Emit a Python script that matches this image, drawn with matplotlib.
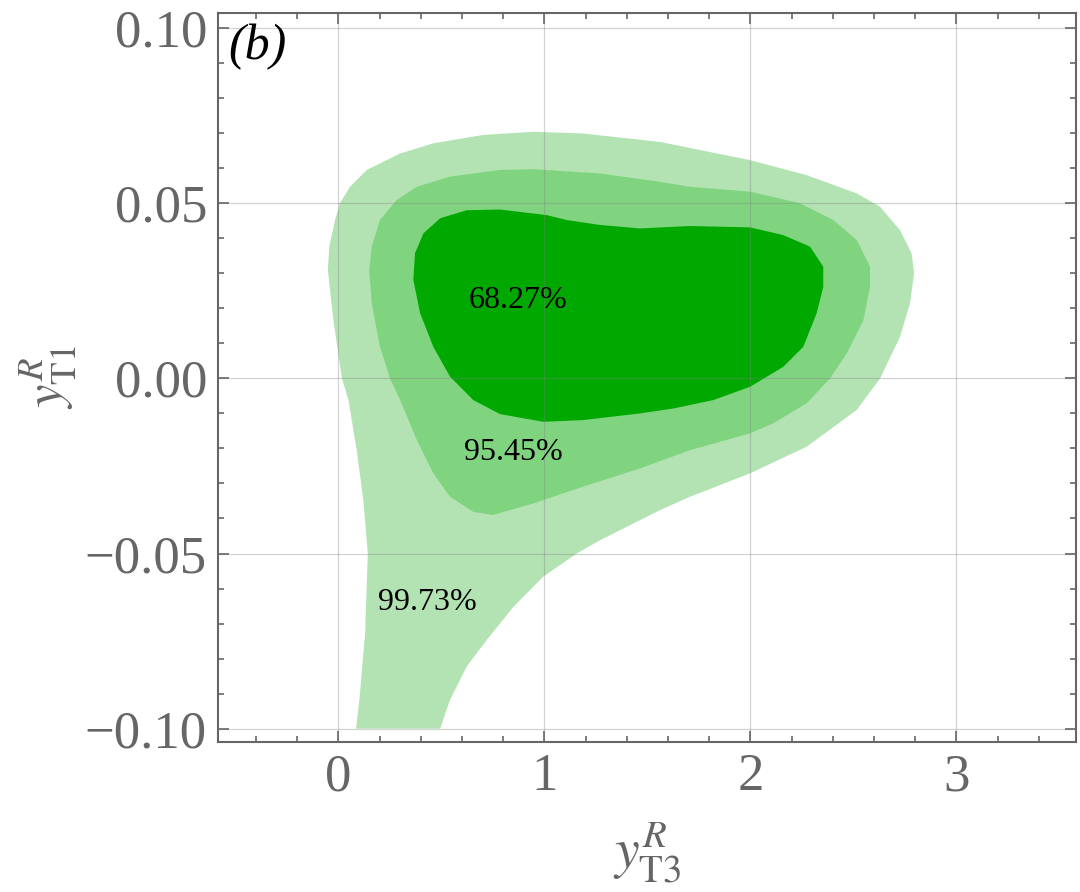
import numpy as np
import matplotlib
matplotlib.use("Agg")
import matplotlib.pyplot as plt
from matplotlib.ticker import MultipleLocator

plt.rcParams['font.family'] = ['Liberation Serif', 'DejaVu Serif']
plt.rcParams['mathtext.fontset'] = 'stix'

# confidence regions (y_T3^R, y_T1^R)
x_997 = [0.086, 0.102, 0.130, 0.143, 0.121, 0.089, 0.049, 0.017, -0.024, -0.051,
         -0.044, -0.016, 0.008, 0.057, 0.138, 0.300, 0.461, 0.704, 0.947, 1.189,
         1.562, 1.999, 2.274, 2.517, 2.630, 2.727, 2.783, 2.795, 2.775, 2.727,
         2.630, 2.517, 2.274, 1.999, 1.707, 1.562, 1.270, 1.157, 0.995, 0.850,
         0.720, 0.623, 0.542, 0.494]
y_997 = [-0.1000, -0.0918, -0.0727, -0.0499, -0.0347, -0.0205, -0.0062, 0.0001, 0.0166, 0.0309,
         0.0376, 0.0452, 0.0501, 0.0547, 0.0595, 0.0642, 0.0671, 0.0695, 0.0704, 0.0699,
         0.0675, 0.0623, 0.0580, 0.0528, 0.0490, 0.0423, 0.0357, 0.0300, 0.0214, 0.0119,
         0.0000, -0.0090, -0.0195, -0.0271, -0.0338, -0.0376, -0.0462, -0.0500, -0.0566, -0.0652,
         -0.0747, -0.0823, -0.0918, -0.1000]

x_954 = [0.150, 0.162, 0.202, 0.283, 0.381, 0.542, 0.785, 0.947, 1.270, 1.562,
         1.707, 1.999, 2.241, 2.403, 2.517, 2.581, 2.581, 2.549, 2.468, 2.387,
         2.274, 2.112, 1.999, 1.707, 1.465, 1.189, 0.947, 0.752, 0.655, 0.542,
         0.461, 0.381, 0.300, 0.251, 0.202, 0.162]
y_954 = [0.0309, 0.0376, 0.0452, 0.0509, 0.0547, 0.0576, 0.0595, 0.0597, 0.0585, 0.0561,
         0.0547, 0.0533, 0.0500, 0.0452, 0.0395, 0.0319, 0.0261, 0.0166, 0.0071, 0.0000,
         -0.0071, -0.0128, -0.0157, -0.0205, -0.0257, -0.0309, -0.0357, -0.0390, -0.0381, -0.0338,
         -0.0271, -0.0176, -0.0062, 0.0000, 0.0090, 0.0214]

x_683 = [0.364, 0.372, 0.413, 0.494, 0.623, 0.785, 1.012, 1.109, 1.270, 1.465,
         1.707, 1.999, 2.160, 2.290, 2.354, 2.354, 2.322, 2.257, 2.160, 1.999,
         1.820, 1.626, 1.465, 1.189, 0.995, 0.785, 0.655, 0.542, 0.461, 0.397]
y_683 = [0.0281, 0.0357, 0.0414, 0.0457, 0.0480, 0.0482, 0.0466, 0.0452, 0.0438, 0.0428,
         0.0435, 0.0431, 0.0409, 0.0376, 0.0319, 0.0261, 0.0186, 0.0090, 0.0033, -0.0024,
         -0.0062, -0.0086, -0.0100, -0.0119, -0.0124, -0.0102, -0.0062, 0.0005, 0.0090, 0.0186]

labels = ['99.73%', '95.45%', '68.27%']
label_x = [0.431, 0.849, 0.874]
label_y = [-0.0641, -0.0213, 0.0222]

fig = plt.figure(figsize=(10.8, 8.92), dpi=100)
ax = fig.add_axes([0.2019, 0.1682, 0.7944, 0.8172])

ax.fill(x_997, y_997, color='#b3e3b3', lw=0)
ax.fill(x_954, y_954, color='#80d480', lw=0)
ax.fill(x_683, y_683, color='#00a800', lw=0)

for i in range(len(labels)):
    ax.text(label_x[i], label_y[i], labels[i], fontsize=23, ha='center', va='center', color='black')

ax.text(0.012, 0.985, '(b)', transform=ax.transAxes, fontsize=36, style='italic', ha='left', va='top')

ax.set_xlim(-0.584, 3.581)
ax.set_ylim(-0.1038, 0.1043)

gray = '#666666'
ax.xaxis.set_major_locator(MultipleLocator(1))
ax.xaxis.set_minor_locator(MultipleLocator(0.2))
ax.yaxis.set_major_locator(MultipleLocator(0.05))
ax.yaxis.set_minor_locator(MultipleLocator(0.01))
ax.yaxis.set_major_formatter(lambda v, p: ('\u22120.%02d' % round(-v * 100)) if v < -1e-9 else '%.2f' % abs(v))
ax.tick_params(which='both', direction='in', top=True, right=True, color=gray,
               labelcolor=gray, labelsize=38, width=1.2)
ax.tick_params(which='major', length=8, pad=8)
ax.tick_params(which='minor', length=4)
for s in ax.spines.values():
    s.set_color(gray)
    s.set_linewidth(1.5)

ax.grid(True, which='major', color='gray', alpha=0.35, lw=0.9)
ax.set_axisbelow(False)

ax.set_xlabel(r'$y^{R}_{\mathrm{T3}}$', fontsize=40, color=gray, labelpad=14)
ax.set_ylabel(r'$y^{R}_{\mathrm{T1}}$', fontsize=38, color=gray, labelpad=4)

fig.savefig('out.png', dpi=100)
